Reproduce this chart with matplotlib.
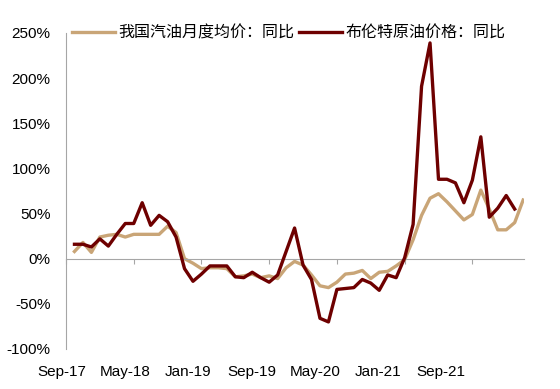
import numpy as np
import matplotlib
matplotlib.use('Agg')
import matplotlib.pyplot as plt

plt.rcParams['font.family'] = ['Liberation Sans', 'Noto Sans CJK SC']

# monthly YoY (%), first point Oct-17
gasoline = [8, 18, 7, 24, 26, 27, 24, 27, 27, 27, 27, 36, 29, 0, -5, -11, -10, -10,
            -11, -20, -19, -17, -21, -19, -22, -10, -3, -7, -18, -30, -32, -26,
            -17, -16, -13, -22, -15, -14, -8, -1, 21, 48, 67, 72, 63, 53, 43, 49,
            76, 55, 32, 32, 40, 65]
brent = [16, 16, 13, 22, 14, 27, 39, 39, 62, 37, 48, 41, 24, -11, -25, -17, -8, -8,
         -8, -20, -21, -15, -21, -26, -18, 8, 34, -7, -23, -66, -70, -34,
         -33, -32, -23, -27, -35, -18, -21, 1, 38, 191, 239, 88, 88, 84, 62, 87,
         135, 46, 56, 70, 55]
xlabels = ['Sep-17', 'May-18', 'Jan-19', 'Sep-19', 'May-20', 'Jan-21', 'Sep-21']
names = ['我国汽油月度均价：同比', '布伦特原油价格：同比']

fig = plt.figure(figsize=(5.6, 3.89), dpi=100)
ax = fig.add_axes([66/560, 1-349/389, (524-66)/560, 316/389])

x1 = np.arange(1, len(gasoline) + 1)
x2 = np.arange(1, len(brent) + 1)
ax.plot(x1, gasoline, color='#C9A577', lw=2.4, label=names[0], zorder=2)
ax.plot(x2, brent, color='#6E0000', lw=2.4, label=names[1], zorder=3)

ax.set_xlim(0, 54.1)
ax.set_ylim(-100, 250)
ax.set_yticks(np.arange(-100, 251, 50))
ax.set_yticklabels([f'{v}%' for v in range(-100, 251, 50)])
ax.tick_params(axis='y', length=0, pad=11, labelsize=11)

for s in ['top', 'right']:
    ax.spines[s].set_visible(False)
ax.spines['left'].set_color('#a6a6a6')
ax.spines['bottom'].set_color('#a6a6a6')
ax.spines['bottom'].set_position(('data', 0))

ax.set_xticks(np.arange(0, 49, 8))
ax.tick_params(axis='x', direction='out', length=3.5, color='#a6a6a6',
               labelbottom=False)
for i, lab in enumerate(xlabels):
    ax.text(i * 7.47 - 0.5, -0.073, lab, transform=ax.get_xaxis_transform(),
            ha='center', va='center', fontsize=11)

leg = ax.legend(loc='center left', bbox_to_anchor=(72/560, 1-33/389),
                bbox_transform=fig.transFigure, ncol=2, frameon=False,
                borderpad=0, borderaxespad=0, handlelength=2.7,
                handletextpad=0.2, columnspacing=0.3,
                prop={'family': ['Noto Sans CJK SC'], 'size': 11.5})

plt.savefig('out.png', dpi=100)
